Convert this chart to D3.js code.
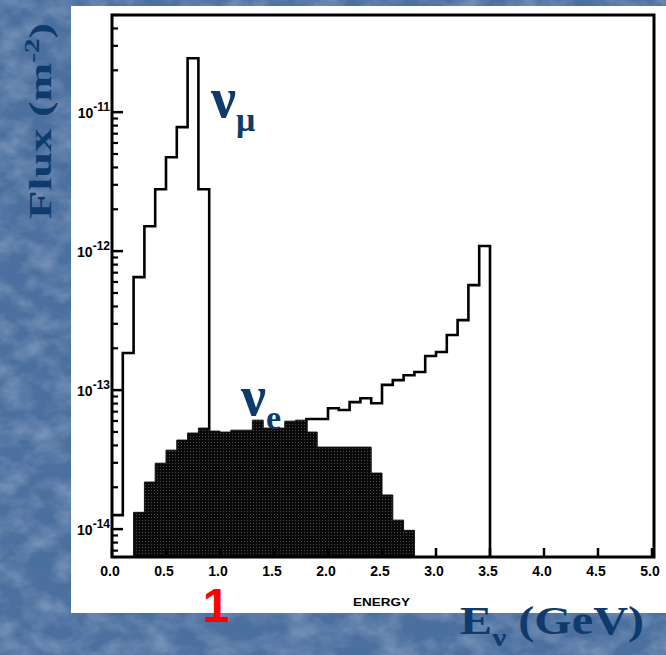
<!DOCTYPE html>
<html>
<head>
<meta charset="utf-8">
<script src="https://cdn.jsdelivr.net/npm/d3@7"></script>
<style>
body { margin: 0; background: #4d709f; }
</style>
</head>
<body>
<div id="chart"></div>
<script>
var width = 666;
var height = 655;

// energy bin lower edges (GeV), 0.1 GeV bins
var numuEnergy = [0.0, 0.1, 0.2, 0.3, 0.4, 0.5, 0.6, 0.7, 0.8, 0.9,
    1.0, 1.1, 1.2, 1.3, 1.4, 1.5, 1.6, 1.7, 1.8, 1.9,
    2.0, 2.1, 2.2, 2.3, 2.4, 2.5, 2.6, 2.7, 2.8, 2.9,
    3.0, 3.1, 3.2, 3.3, 3.4];
var numuFlux = [1.26e-14, 1.85e-13, 6.5e-13, 1.51e-12, 2.79e-12, 4.74e-12, 7.8e-12, 2.44e-11, 2.79e-12, 3.0e-14,
    3.2e-14, 3.4e-14, 3.6e-14, 3.8e-14, 4.0e-14, 4.3e-14, 4.6e-14, 5.0e-14, 6.2e-14, 6.2e-14,
    7.4e-14, 7.2e-14, 8.2e-14, 8.75e-14, 8.05e-14, 1.09e-13, 1.18e-13, 1.28e-13, 1.35e-13, 1.76e-13,
    1.88e-13, 2.49e-13, 3.19e-13, 5.69e-13, 1.09e-12];
var numuEnd = 3.5;

var nueEnergy = [0.2, 0.3, 0.4, 0.5, 0.6, 0.7, 0.8, 0.9,
    1.0, 1.1, 1.2, 1.3, 1.4, 1.5, 1.6, 1.7, 1.8, 1.9,
    2.0, 2.1, 2.2, 2.3, 2.4, 2.5, 2.6, 2.7];
var nueFlux = [1.32e-14, 2.18e-14, 2.98e-14, 3.70e-14, 4.37e-14, 4.91e-14, 5.33e-14, 5.07e-14,
    4.99e-14, 5.15e-14, 5.15e-14, 6.08e-14, 5.33e-14, 5.33e-14, 5.98e-14, 6.08e-14, 4.99e-14, 3.89e-14,
    3.89e-14, 3.89e-14, 3.89e-14, 3.89e-14, 2.53e-14, 1.76e-14, 1.16e-14, 9.8e-15];
var nueEnd = 2.8;

var xTicks = [0.0, 0.5, 1.0, 1.5, 2.0, 2.5, 3.0, 3.5, 4.0, 4.5, 5.0];
var xTickLabels = ["0.0", "0.5", "1.0", "1.5", "2.0", "2.5", "3.0", "3.5", "4.0", "4.5", "5.0"];
var yDecades = [1e-11, 1e-12, 1e-13, 1e-14];
var yDecadeLabels = ["-11", "-12", "-13", "-14"];
var yDomain = [6.3e-15, 5e-11];

var navy = "#0f3b6c";
var serif = "'Liberation Serif', 'DejaVu Serif', serif";
var sans = "'Liberation Sans', Arial, sans-serif";

var m = { left: 112, right: 652, top: 15, bottom: 557, frameRight: 654 };

var x = d3.scaleLinear().domain([0, 5]).range([m.left, m.right]);
var y = d3.scaleLog().domain(yDomain).range([m.bottom, m.top]);

var svg = d3.select("#chart").append("svg")
    .attr("width", width)
    .attr("height", height);

var defs = svg.append("defs");

var tex = defs.append("filter").attr("id", "tex")
    .attr("x", 0).attr("y", 0).attr("width", 1).attr("height", 1);
tex.append("feTurbulence")
    .attr("type", "fractalNoise")
    .attr("baseFrequency", "0.035 0.05")
    .attr("numOctaves", 4)
    .attr("seed", 7);
tex.append("feColorMatrix")
    .attr("type", "matrix")
    .attr("values", "0 0 0 0 0.8  0 0 0 0 0.87  0 0 0 0 1  0.55 0 0 0 -0.2");

var dots = defs.append("pattern").attr("id", "halftone")
    .attr("width", 3).attr("height", 3)
    .attr("patternUnits", "userSpaceOnUse");
dots.append("rect").attr("width", 3).attr("height", 3).attr("fill", "#0a0a0a");
dots.append("rect").attr("x", 1).attr("y", 1).attr("width", 1).attr("height", 1).attr("fill", "#4a4a4a");

// slide background
svg.append("rect").attr("width", width).attr("height", height).attr("fill", "#4b6f9e");
svg.append("rect").attr("width", width).attr("height", height).attr("filter", "url(#tex)");

// white figure panel
svg.append("rect")
    .attr("x", 71).attr("y", 6)
    .attr("width", width - 71).attr("height", 613 - 6)
    .attr("fill", "#ffffff");

// nu_mu histogram outline
var numuPts = numuEnergy.map(function(e, i) { return { e: e, v: numuFlux[i] }; });
numuPts.push({ e: numuEnd, v: numuFlux[numuFlux.length - 1] });
numuPts.push({ e: numuEnd, v: yDomain[0] });

var stepLine = d3.line()
    .x(function(d) { return x(d.e); })
    .y(function(d) { return y(d.v); })
    .curve(d3.curveStepAfter);

svg.append("path")
    .datum(numuPts)
    .attr("d", stepLine)
    .attr("fill", "none")
    .attr("stroke", "#000")
    .attr("stroke-width", 2.6);

// nu_e shaded histogram
var nuePts = nueEnergy.map(function(e, i) { return { e: e, v: nueFlux[i] }; });
nuePts.push({ e: nueEnd, v: nueFlux[nueFlux.length - 1] });

var stepArea = d3.area()
    .x(function(d) { return x(d.e); })
    .y0(m.bottom)
    .y1(function(d) { return y(d.v); })
    .curve(d3.curveStepAfter);

svg.append("path")
    .datum(nuePts)
    .attr("d", stepArea)
    .attr("fill", "url(#halftone)")
    .attr("stroke", "#111")
    .attr("stroke-width", 1);

// frame
svg.append("rect")
    .attr("x", m.left).attr("y", m.top)
    .attr("width", m.frameRight - m.left).attr("height", m.bottom - m.top)
    .attr("fill", "none")
    .attr("stroke", "#000")
    .attr("stroke-width", 3);

// bottom ticks and labels
var gx = svg.append("g");
gx.selectAll("line")
    .data(xTicks)
    .enter().append("line")
    .attr("x1", function(d) { return x(d); })
    .attr("x2", function(d) { return x(d); })
    .attr("y1", m.bottom)
    .attr("y2", m.bottom - 9)
    .attr("stroke", "#000")
    .attr("stroke-width", 2.5);
gx.selectAll("text")
    .data(xTicks)
    .enter().append("text")
    .attr("x", function(d) { return x(d) - 2; })
    .attr("y", 576)
    .attr("text-anchor", "middle")
    .style("font-family", sans)
    .style("font-weight", "bold")
    .style("font-size", "14px")
    .text(function(d, i) { return xTickLabels[i]; });

svg.append("text")
    .attr("x", 353)
    .attr("y", 606)
    .attr("textLength", 57)
    .attr("lengthAdjust", "spacingAndGlyphs")
    .style("font-family", sans)
    .style("font-weight", "bold")
    .style("font-size", "11px")
    .text("ENERGY");

// left log ticks
var minor = [];
[-15, -14, -13, -12, -11].forEach(function(p) {
    for (var k = 2; k <= 9; k++) {
        var v = k * Math.pow(10, p);
        if (v > yDomain[0] && v < yDomain[1]) minor.push(v);
    }
});
svg.append("g").selectAll("line")
    .data(minor)
    .enter().append("line")
    .attr("x1", m.left)
    .attr("x2", m.left + 6)
    .attr("y1", function(d) { return y(d); })
    .attr("y2", function(d) { return y(d); })
    .attr("stroke", "#000")
    .attr("stroke-width", 2.2);

var gy = svg.append("g");
gy.selectAll("line")
    .data(yDecades)
    .enter().append("line")
    .attr("x1", m.left)
    .attr("x2", m.left + 11)
    .attr("y1", function(d) { return y(d); })
    .attr("y2", function(d) { return y(d); })
    .attr("stroke", "#000")
    .attr("stroke-width", 2.5);

var ylab = gy.selectAll("text")
    .data(yDecades)
    .enter().append("text")
    .attr("x", 110)
    .attr("y", function(d) { return y(d) + 6; })
    .attr("text-anchor", "end")
    .style("font-family", sans)
    .style("font-weight", "bold")
    .style("font-size", "14px");
ylab.append("tspan").text("10");
ylab.append("tspan")
    .attr("dy", -7)
    .style("font-size", "12px")
    .text(function(d, i) { return yDecadeLabels[i]; });

// slide annotations
var fluxLabel = svg.append("text")
    .attr("transform", "translate(51,121) rotate(-90)")
    .attr("x", -98)
    .attr("textLength", 196)
    .attr("lengthAdjust", "spacingAndGlyphs")
    .style("font-family", serif)
    .style("font-weight", "bold")
    .style("font-size", "32px")
    .attr("fill", navy);
fluxLabel.append("tspan").text("Flux (m");
fluxLabel.append("tspan").attr("dy", -12).style("font-size", "20px").text("-2");
fluxLabel.append("tspan").attr("dy", 12).text(")");

function nuLabel(px, py, sub) {
    var t = svg.append("text")
        .attr("x", px).attr("y", py)
        .style("font-family", serif)
        .style("font-weight", "bold")
        .attr("fill", navy);
    t.append("tspan").style("font-size", "56px").text("\u03bd");
    t.append("tspan").attr("dy", 14).style("font-size", "34px").text(sub);
}
nuLabel(211, 117, "\u03bc");
nuLabel(241, 415, "e");

var eLabel = svg.append("text")
    .attr("x", 460).attr("y", 634)
    .attr("textLength", 184)
    .attr("lengthAdjust", "spacingAndGlyphs")
    .style("font-family", serif)
    .style("font-weight", "bold")
    .style("font-size", "40px")
    .attr("fill", navy);
eLabel.append("tspan").text("E");
eLabel.append("tspan").attr("dy", 12).style("font-size", "26px").text("\u03bd");
eLabel.append("tspan").attr("dy", -12).text(" (GeV)");

svg.append("text")
    .attr("x", 216).attr("y", 622)
    .attr("text-anchor", "middle")
    .style("font-family", sans)
    .style("font-weight", "bold")
    .style("font-size", "48px")
    .attr("fill", "#ff0000")
    .text("1");
</script>
</body>
</html>
